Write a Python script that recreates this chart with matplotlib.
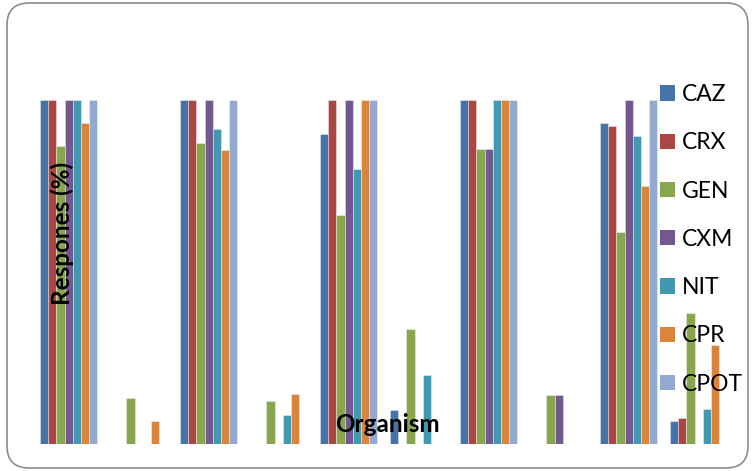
"""Grouped bar chart of antibiotic response by organism."""

import numpy as np
import matplotlib
matplotlib.use("Agg")
import matplotlib.pyplot as plt
from matplotlib.patches import FancyBboxPatch, Patch

# response (%) per antibiotic, one value per organism group
antibiotics = ["CAZ", "CRX", "GEN", "CXM", "NIT", "CPR", "CPOT"]
caz = [100, 0, 100, 0, 90.1, 9.9, 100, 0, 93.2, 6.7]
crx = [100, 0, 100, 0, 100, 0, 100, 0, 92.4, 7.5]
gen = [86.6, 13.3, 87.6, 12.5, 66.7, 33.3, 85.7, 14.2, 61.7, 38.0]
cxm = [100, 0, 100, 0, 100, 0, 85.7, 14.2, 100, 0]
nit = [100, 0, 91.6, 8.3, 79.9, 20.0, 100, 0, 89.6, 10.2]
cpr = [93.2, 6.7, 85.4, 14.5, 100, 0, 100, 0, 75.1, 28.7]
cpot = [100, 0, 100, 0, 100, 0, 100, 0, 100, 0]
series = [caz, crx, gen, cxm, nit, cpr, cpot]

colors = ["#4572A7", "#AA4643", "#89A54E", "#71588F",
          "#4198AF", "#DB843D", "#93A9CF"]

W, H = 756, 471
fig = plt.figure(figsize=(W / 100, H / 100), dpi=100)
fig.patch.set_facecolor("white")

# rounded chart-area frame, drawn in inches so the corners stay circular
frame = FancyBboxPatch((0.07, 0.03), 7.41, 4.65,
                       boxstyle="round,pad=0,rounding_size=0.22",
                       transform=fig.dpi_scale_trans,
                       facecolor="white", edgecolor="#8c8c8c", linewidth=1.2,
                       zorder=-5)
fig.patches.append(frame)

ax = fig.add_axes([37.7 / W, 27 / H, 700 / W, 344 / H])
ax.set_facecolor("none")
ax.set_zorder(1)

n_groups = len(caz)
x = np.arange(n_groups)
bw = 0.117
start = -3.5 * bw
for i, (vals, c) in enumerate(zip(series, colors)):
    ax.bar(x + start + i * bw, vals, width=bw, color=c,
           edgecolor=(1, 1, 1, 0.45), linewidth=0.6, zorder=2)

ax.set_xlim(-0.5, n_groups - 0.5)
ax.set_ylim(0, 100)
ax.set_xticks([])
ax.set_yticks([])
for sp in ax.spines.values():
    sp.set_visible(False)

fig.text(62 / W, 1 - 233 / H, "Respones (%)", rotation=90,
         ha="center", va="center", fontsize=17.5, fontweight="bold",
         family="Lato", zorder=10)
fig.text(387 / W, 1 - 425 / H, "Organism", ha="center", va="center",
         fontsize=17.5, fontweight="bold", family="Lato", zorder=10)

handles = [Patch(facecolor=c, edgecolor="none") for c in colors]
leg = fig.legend(handles, antibiotics, loc="upper left",
                 bbox_to_anchor=(660 / W, 1 - 84 / H),
                 frameon=False, handlelength=0.65,
                 handleheight=0.65, handletextpad=0.3, labelspacing=1.19,
                 borderpad=0, borderaxespad=0,
                 prop={"family": "Lato", "size": 16.5})
leg.set_zorder(10)

fig.savefig("out.png", dpi=100, facecolor="white")
